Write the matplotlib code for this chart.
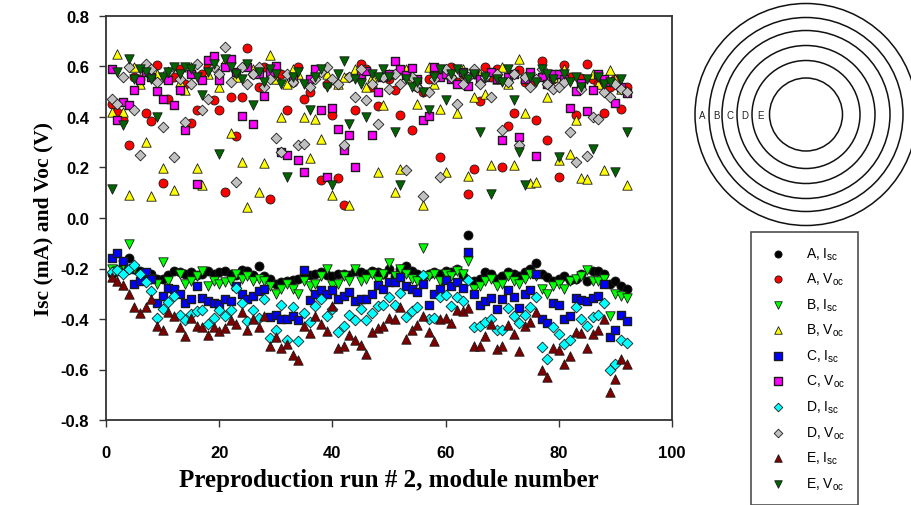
import matplotlib
matplotlib.use("Agg")
import matplotlib.pyplot as plt
from matplotlib.patches import Circle
from matplotlib.ticker import FormatStrFormatter, MultipleLocator

plt.rcParams['axes.unicode_minus'] = False
plt.rcParams['mathtext.fontset'] = 'custom'
plt.rcParams['mathtext.rm'] = 'Liberation Sans'
plt.rcParams['mathtext.it'] = 'Liberation Sans:italic'

module = list(range(1, 93))

a_isc = [-0.22, -0.21, -0.19, -0.16, -0.20, -0.21, -0.23, -0.22, -0.24, -0.24,
         -0.225, -0.21, -0.215, -0.22, -0.215, -0.225, -0.22, -0.21, -0.22, -0.215,
         -0.21, -0.22, -0.225, -0.205, -0.21, -0.225, -0.19, -0.23, -0.24, -0.26,
         -0.255, -0.25, -0.245, -0.24, -0.23, -0.225, -0.22, -0.215, -0.225, -0.23,
         -0.22, -0.22, -0.225, -0.21, -0.215, -0.22, -0.21, -0.215, -0.22, -0.20,
         -0.23, -0.20, -0.19, -0.21, -0.22, -0.23, -0.22, -0.215, -0.22, -0.21,
         -0.215, -0.20, -0.23, -0.067, -0.25, -0.24, -0.215, -0.22, -0.24, -0.23,
         -0.215, -0.22, -0.23, -0.215, -0.20, -0.18, -0.22, -0.235, -0.25, -0.24,
         -0.23, -0.245, -0.24, -0.22, -0.25, -0.21, -0.21, -0.22, -0.26, -0.25,
         -0.27, -0.28]
a_voc = [0.45, 0.42, 0.387, 0.288, 0.56, 0.55, 0.416, 0.385, 0.605, 0.137,
         0.473, 0.56, 0.59, 0.53, 0.377, 0.427, 0.57, 0.60, 0.466, 0.427,
         0.104, 0.48, 0.324, 0.48, 0.675, 0.57, 0.52, 0.60, 0.075, 0.55,
         0.57, 0.427, 0.54, 0.60, 0.473, 0.499, 0.57, 0.15, 0.53, 0.407,
         0.157, 0.05, 0.56, 0.427, 0.611, 0.59, 0.52, 0.443, 0.56, 0.55,
         0.506, 0.407, 0.57, 0.35, 0.52, 0.50, 0.55, 0.58, 0.242, 0.57,
         0.60, 0.54, 0.57, 0.097, 0.196, 0.464, 0.598, 0.56, 0.59, 0.203,
         0.364, 0.416, 0.588, 0.54, 0.526, 0.39, 0.622, 0.308, 0.55, 0.163,
         0.605, 0.56, 0.407, 0.556, 0.611, 0.55, 0.53, 0.414, 0.52, 0.55,
         0.43, 0.52]
b_isc = [-0.20, -0.21, -0.185, -0.103, -0.20, -0.23, -0.22, -0.24, -0.26, -0.176,
         -0.25, -0.29, -0.22, -0.26, -0.25, -0.23, -0.21, -0.27, -0.25, -0.26,
         -0.255, -0.25, -0.22, -0.24, -0.23, -0.25, -0.24, -0.25, -0.27, -0.30,
         -0.28, -0.26, -0.28, -0.30, -0.25, -0.27, -0.26, -0.23, -0.20, -0.265,
         -0.26, -0.23, -0.25, -0.20, -0.25, -0.24, -0.22, -0.25, -0.22, -0.18,
         -0.23, -0.20, -0.22, -0.24, -0.25, -0.12, -0.23, -0.22, -0.25, -0.22,
         -0.23, -0.21, -0.22, -0.172, -0.28, -0.27, -0.25, -0.24, -0.27, -0.26,
         -0.23, -0.25, -0.26, -0.24, -0.22, -0.23, -0.28, -0.30, -0.27, -0.26,
         -0.28, -0.25, -0.24, -0.23, -0.205, -0.25, -0.25, -0.24, -0.39, -0.30,
         -0.31, -0.318]
b_voc = [0.42, 0.648, 0.42, 0.091, 0.598, 0.53, 0.302, 0.088, 0.57, 0.20,
         0.56, 0.111, 0.539, 0.506, 0.60, 0.20, 0.13, 0.57, 0.61, 0.52,
         0.62, 0.335, 0.56, 0.223, 0.045, 0.59, 0.104, 0.216, 0.644, 0.55,
         0.40, 0.53, 0.59, 0.57, 0.40, 0.236, 0.394, 0.311, 0.57, 0.091,
         0.53, 0.56, 0.051, 0.59, 0.57, 0.52, 0.56, 0.183, 0.447, 0.57,
         0.104, 0.196, 0.59, 0.55, 0.453, 0.051, 0.60, 0.53, 0.433, 0.183,
         0.57, 0.414, 0.59, 0.166, 0.48, 0.57, 0.493, 0.209, 0.55, 0.60,
         0.53, 0.209, 0.631, 0.414, 0.137, 0.144, 0.57, 0.48, 0.56, 0.229,
         0.59, 0.253, 0.387, 0.157, 0.153, 0.57, 0.53, 0.19, 0.585, 0.55,
         0.51, 0.13]
c_isc = [-0.16, -0.137, -0.17, -0.20, -0.26, -0.25, -0.212, -0.24, -0.337, -0.31,
         -0.278, -0.28, -0.30, -0.337, -0.32, -0.271, -0.317, -0.33, -0.337, -0.34,
         -0.32, -0.328, -0.271, -0.30, -0.32, -0.308, -0.29, -0.282, -0.393, -0.385,
         -0.40, -0.40, -0.39, -0.403, -0.205, -0.324, -0.30, -0.284, -0.30, -0.284,
         -0.32, -0.31, -0.295, -0.33, -0.321, -0.32, -0.30, -0.264, -0.28, -0.255,
         -0.252, -0.235, -0.27, -0.28, -0.295, -0.26, -0.344, -0.30, -0.282, -0.245,
         -0.27, -0.252, -0.278, -0.133, -0.30, -0.344, -0.33, -0.317, -0.361, -0.32,
         -0.284, -0.313, -0.357, -0.30, -0.287, -0.221, -0.40, -0.416, -0.337, -0.344,
         -0.40, -0.39, -0.317, -0.324, -0.33, -0.317, -0.308, -0.26, -0.472, -0.445,
         -0.383, -0.406]
c_voc = [0.591, 0.387, 0.46, 0.447, 0.506, 0.545, 0.58, 0.56, 0.502, 0.47,
         0.545, 0.447, 0.506, 0.348, 0.57, 0.134, 0.545, 0.627, 0.64, 0.545,
         0.60, 0.631, 0.58, 0.403, 0.60, 0.372, 0.57, 0.482, 0.58, 0.601,
         0.262, 0.249, 0.56, 0.229, 0.183, 0.55, 0.591, 0.427, 0.163, 0.437,
         0.354, 0.269, 0.328, 0.203, 0.57, 0.582, 0.328, 0.499, 0.56, 0.57,
         0.622, 0.59, 0.565, 0.595, 0.55, 0.39, 0.403, 0.598, 0.56, 0.57,
         0.55, 0.532, 0.58, 0.522, 0.57, 0.552, 0.56, 0.58, 0.55, 0.308,
         0.56, 0.57, 0.321, 0.55, 0.58, 0.245, 0.56, 0.532, 0.57, 0.569,
         0.55, 0.437, 0.503, 0.535, 0.424, 0.508, 0.569, 0.55, 0.54, 0.456,
         0.52, 0.495]
d_isc = [-0.212, -0.205, -0.22, -0.20, -0.185, -0.22, -0.252, -0.291, -0.397, -0.36,
         -0.331, -0.308, -0.383, -0.403, -0.38, -0.37, -0.364, -0.419, -0.397, -0.364,
         -0.39, -0.366, -0.278, -0.335, -0.406, -0.364, -0.397, -0.321, -0.476, -0.445,
         -0.344, -0.485, -0.353, -0.489, -0.376, -0.41, -0.35, -0.321, -0.39, -0.36,
         -0.453, -0.429, -0.383, -0.403, -0.361, -0.403, -0.376, -0.35, -0.344, -0.313,
         -0.344, -0.298, -0.393, -0.37, -0.353, -0.225, -0.40, -0.397, -0.313, -0.304,
         -0.348, -0.313, -0.327, -0.245, -0.432, -0.427, -0.41, -0.40, -0.443, -0.445,
         -0.357, -0.39, -0.414, -0.383, -0.353, -0.313, -0.511, -0.559, -0.432, -0.458,
         -0.498, -0.485, -0.353, -0.40, -0.429, -0.393, -0.383, -0.337, -0.601, -0.577,
         -0.482, -0.495]
d_voc = [0.473, 0.45, 0.56, 0.60, 0.427, 0.249, 0.611, 0.59, 0.54, 0.361,
         0.58, 0.242, 0.55, 0.381, 0.53, 0.611, 0.427, 0.473, 0.60, 0.57,
         0.677, 0.54, 0.144, 0.60, 0.53, 0.57, 0.60, 0.52, 0.55, 0.315,
         0.262, 0.57, 0.54, 0.288, 0.295, 0.52, 0.55, 0.58, 0.60, 0.55,
         0.53, 0.288, 0.56, 0.48, 0.59, 0.466, 0.53, 0.374, 0.56, 0.51,
         0.57, 0.53, 0.19, 0.56, 0.52, 0.088, 0.50, 0.55, 0.163, 0.59,
         0.56, 0.453, 0.53, 0.56, 0.59, 0.53, 0.56, 0.48, 0.57, 0.35,
         0.54, 0.57, 0.288, 0.56, 0.52, 0.55, 0.59, 0.53, 0.51, 0.52,
         0.54, 0.341, 0.222, 0.51, 0.245, 0.40, 0.394, 0.50, 0.48, 0.53,
         0.51, 0.499]
e_isc = [-0.234, -0.249, -0.265, -0.30, -0.353, -0.377, -0.353, -0.321, -0.429, -0.443,
         -0.374, -0.387, -0.432, -0.466, -0.397, -0.429, -0.432, -0.462, -0.432, -0.449,
         -0.436, -0.403, -0.42, -0.374, -0.445, -0.40, -0.432, -0.39, -0.508, -0.47,
         -0.515, -0.498, -0.541, -0.564, -0.429, -0.456, -0.39, -0.42, -0.449, -0.348,
         -0.515, -0.508, -0.462, -0.482, -0.502, -0.537, -0.453, -0.436, -0.427, -0.397,
         -0.40, -0.353, -0.479, -0.445, -0.423, -0.39, -0.453, -0.489, -0.40, -0.397,
         -0.414, -0.364, -0.37, -0.357, -0.506, -0.508, -0.466, -0.419, -0.519, -0.508,
         -0.423, -0.458, -0.528, -0.427, -0.41, -0.374, -0.603, -0.63, -0.515, -0.522,
         -0.577, -0.548, -0.453, -0.456, -0.515, -0.458, -0.445, -0.40, -0.69, -0.638,
         -0.559, -0.577]
e_voc = [0.115, 0.58, 0.367, 0.63, 0.55, 0.59, 0.58, 0.55, 0.40, 0.56,
         0.58, 0.60, 0.57, 0.60, 0.59, 0.56, 0.486, 0.58, 0.61, 0.255,
         0.63, 0.60, 0.57, 0.55, 0.61, 0.447, 0.58, 0.54, 0.59, 0.57,
         0.53, 0.163, 0.56, 0.58, 0.53, 0.427, 0.56, 0.59, 0.52, 0.13,
         0.57, 0.62, 0.374, 0.55, 0.53, 0.40, 0.57, 0.56, 0.59, 0.56,
         0.341, 0.13, 0.55, 0.52, 0.54, 0.50, 0.427, 0.56, 0.59, 0.466,
         0.57, 0.59, 0.57, 0.55, 0.57, 0.341, 0.56, 0.097, 0.55, 0.54,
         0.59, 0.466, 0.262, 0.13, 0.56, 0.54, 0.59, 0.57, 0.55, 0.242,
         0.57, 0.54, 0.56, 0.52, 0.55, 0.275, 0.56, 0.53, 0.54, 0.183,
         0.55, 0.341]

# label, values, marker, face colour, size, edge width
series = [
    ("A, I$_\\mathrm{sc}$", a_isc, 'o', '#000000', 42, 0.6),
    ("A, V$_\\mathrm{oc}$", a_voc, 'o', '#ff0000', 42, 0.6),
    ("B, I$_\\mathrm{sc}$", b_isc, 'v', '#00ff00', 46, 0.6),
    ("B, V$_\\mathrm{oc}$", b_voc, '^', '#ffff00', 46, 0.6),
    ("C, I$_\\mathrm{sc}$", c_isc, 's', '#0000ff', 40, 1.0),
    ("C, V$_\\mathrm{oc}$", c_voc, 's', '#ff00ff', 40, 1.0),
    ("D, I$_\\mathrm{sc}$", d_isc, 'D', '#00ffff', 30, 0.6),
    ("D, V$_\\mathrm{oc}$", d_voc, 'D', '#c0c0c0', 30, 0.6),
    ("E, I$_\\mathrm{sc}$", e_isc, '^', '#800000', 46, 0.6),
    ("E, V$_\\mathrm{oc}$", e_voc, 'v', '#006400', 46, 0.6),
]

W, H = 912, 506
fig = plt.figure(figsize=(W / 100, H / 100), dpi=100)
ax = fig.add_axes([106 / W, 1 - 421 / H, (672 - 106) / W, (421 - 17) / H])

handles = []
for label, vals, mk, col, size, lw in series:
    h = ax.scatter(module, vals, marker=mk, s=size, c=col,
                   edgecolors='#1a1a1a', linewidths=lw, label=label)
    handles.append(h)

ax.set_xlim(0, 100)
ax.set_ylim(-0.8, 0.8)
ax.xaxis.set_major_locator(MultipleLocator(20))
ax.yaxis.set_major_locator(MultipleLocator(0.2))
ax.yaxis.set_major_formatter(FormatStrFormatter('%.1f'))
for sp in ax.spines.values():
    sp.set_linewidth(1.3)
    sp.set_color('#333333')
ax.tick_params(direction='out', length=5, width=1.0, color='#333333')
ax.tick_params(axis='y', pad=7)
ax.tick_params(axis='x', pad=13)
for lbl in ax.get_xticklabels() + ax.get_yticklabels():
    lbl.set_fontfamily('Liberation Sans')
    lbl.set_fontweight('bold')
    lbl.set_fontsize(12)

ax.set_xlabel('Preproduction run # 2, module number', fontfamily='Liberation Serif',
              fontweight='bold', fontsize=18, labelpad=6)
ax.set_ylabel('Isc (mA) and Voc (V)', fontfamily='Liberation Serif',
              fontweight='bold', fontsize=15.5, labelpad=5)

leg = fig.legend(handles=handles, loc='upper left',
                 bbox_to_anchor=(751 / W, 1 - 233 / H),
                 frameon=True, fancybox=False, edgecolor='#222222',
                 prop={'family': 'Liberation Sans', 'size': 10},
                 labelspacing=0.66, handletextpad=1.0, borderpad=0.95,
                 handlelength=2.0, borderaxespad=0, markerscale=0.8)
leg.get_frame().set_linewidth(1.2)

# Concentric ring diagram of the module zones
ov = fig.add_axes([0, 0, 1, 1])
ov.set_xlim(0, W)
ov.set_ylim(H, 0)
ov.axis('off')
ov.patch.set_alpha(0)
cx, cy = 806, 115.5
for r in [36.5, 54, 69, 84, 97, 111]:
    ov.add_patch(Circle((cx, cy), r, fill=False, lw=1.1, ec='#111111'))
for name, xpos in zip('ABCDE', [702, 716, 730, 745, 761]):
    ov.text(xpos, cy, name, ha='center', va='center', fontsize=7,
            fontfamily='Liberation Sans', color='#222222')

fig.savefig('out.png', dpi=100)
